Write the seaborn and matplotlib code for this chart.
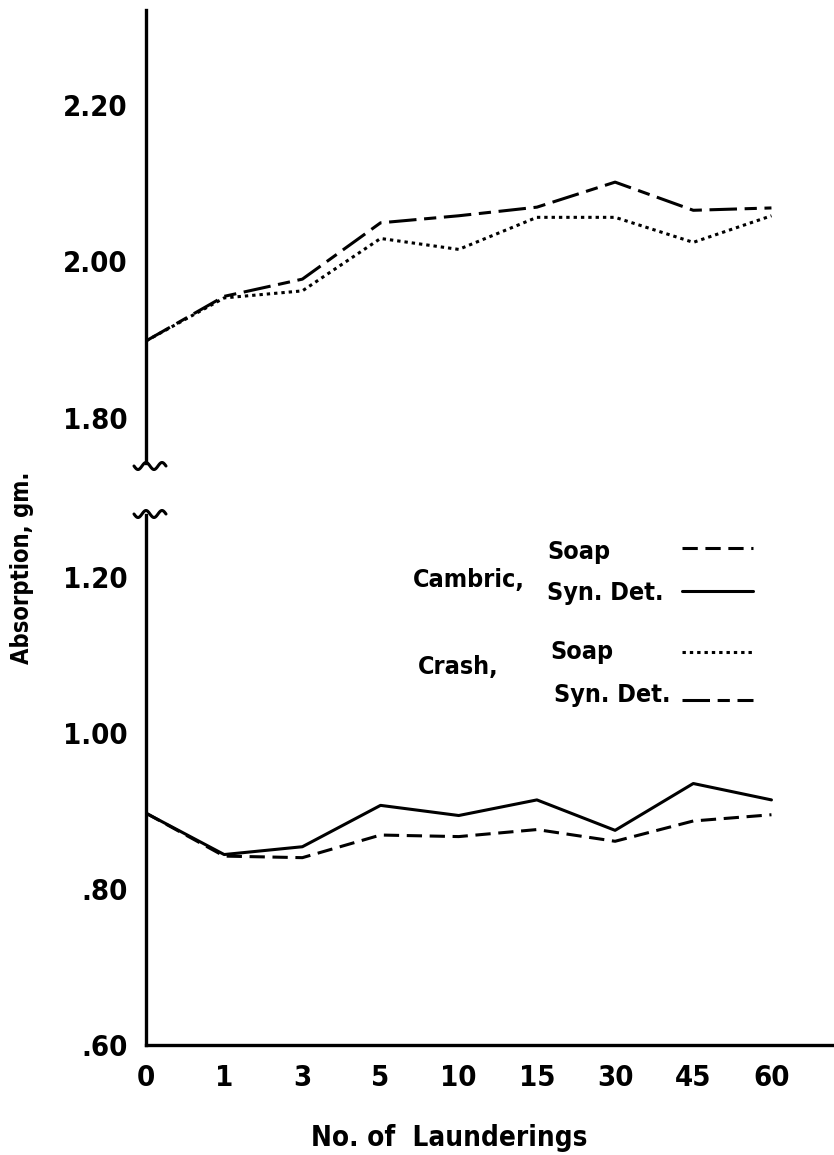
import matplotlib
matplotlib.use("Agg")
import matplotlib.pyplot as plt
from matplotlib.lines import Line2D
import numpy as np
import pandas as pd
import seaborn as sns

# values
launderings = ["0", "1", "3", "5", "10", "15", "30", "45", "60"]
crash_soap = [1.898, 1.953, 1.962, 2.029, 2.015, 2.056, 2.056, 2.024, 2.058]
crash_syn = [1.898, 1.955, 1.977, 2.049, 2.058, 2.069, 2.101, 2.065, 2.068]
cambric_soap = [0.897, 0.842, 0.840, 0.869, 0.867, 0.876, 0.861, 0.887, 0.895]
cambric_syn = [0.897, 0.844, 0.854, 0.907, 0.894, 0.914, 0.875, 0.935, 0.914]

top_ticks = [1.80, 2.00, 2.20]
top_labels = ["1.80", "2.00", "2.20"]
bottom_ticks = [0.60, 0.80, 1.00, 1.20]
bottom_labels = [".60", ".80", "1.00", "1.20"]

W, H = 834, 1155
sns.set_style("white")
plt.rcParams["font.family"] = ["DejaVu Sans"]
for k in ["text.color", "axes.labelcolor", "xtick.color", "ytick.color", "axes.edgecolor"]:
    plt.rcParams[k] = "black"

top_df = pd.DataFrame({
    "n": launderings * 2,
    "absorption": crash_soap + crash_syn,
    "series": ["Crash, Soap"] * 9 + ["Crash, Syn. Det."] * 9,
})
bottom_df = pd.DataFrame({
    "n": launderings * 2,
    "absorption": cambric_soap + cambric_syn,
    "series": ["Cambric, Soap"] * 9 + ["Cambric, Syn. Det."] * 9,
})
dash_styles = {
    "Crash, Soap": (1.1, 1.3),
    "Crash, Syn. Det.": (9, 2.5, 4, 2.5),
    "Cambric, Soap": (5, 2.5),
    "Cambric, Syn. Det.": "",
}


def fx(x):
    return x / W


def fy(y):
    return 1 - y / H


fig = plt.figure(figsize=(W / 100, H / 100), dpi=100)
left, right = fx(146), fx(834)
ax_top = fig.add_axes([left, fy(463), right - left, fy(10) - fy(463)])
ax_bot = fig.add_axes([left, fy(1045), right - left, fy(515) - fy(1045)])

cond = dict(fontweight="bold", fontstretch="condensed")
lw = 2.2
for ax, df in [(ax_top, top_df), (ax_bot, bottom_df)]:
    sns.lineplot(data=df, x="n", y="absorption", style="series", dashes=dash_styles,
                 color="black", linewidth=lw, legend=False, ax=ax)
    ax.set_xlim(0, 8.8)
    ax.set_xlabel("")
    ax.set_ylabel("")
    for s in ["top", "right"]:
        ax.spines[s].set_visible(False)
    ax.spines["left"].set_linewidth(2.4)
    ax.spines["bottom"].set_linewidth(2.4)
    ax.tick_params(direction="in", length=11, width=2, color="black",
                   labelsize=21, pad=13)

ax_top.set_ylim(1.742, 2.321)
ax_top.set_yticks(top_ticks, top_labels)
ax_top.spines["bottom"].set_visible(False)
ax_top.tick_params(axis="x", bottom=False, labelbottom=False)

ax_bot.set_ylim(0.60, 1.279)
ax_bot.set_yticks(bottom_ticks, bottom_labels)
ax_bot.set_xticks(range(len(launderings)), launderings)
ax_bot.tick_params(axis="x", labelsize=21, pad=14)
for t in ax_bot.get_yticklabels() + ax_top.get_yticklabels() + ax_bot.get_xticklabels():
    t.set_fontweight("bold")
    t.set_fontstretch("condensed")
ax_bot.get_xticklines()[0].set_visible(False)

# axis break squiggles
t = np.linspace(0, 1, 60)
for yb in (466, 514):
    xs = 134 + 32 * t
    ys = yb + 3.5 * np.sin(t * 4 * np.pi)
    fig.add_artist(Line2D(fx(xs), fy(ys), color="black", lw=2.2))

# axis titles
fig.text(fx(449), fy(1138), "No. of  Launderings", ha="center", va="center",
         fontsize=20, **cond)
fig.text(fx(22), fy(568), "Absorption, gm.", ha="center", va="center", rotation=90,
         fontsize=17, **cond)

# hand-drawn style key
key_font = dict(fontsize=18, va="center", **cond)
fig.text(fx(413), fy(580), "Cambric,", ha="left", **key_font)
fig.text(fx(547), fy(552), "Soap", ha="left", **key_font)
fig.text(fx(547), fy(593), "Syn. Det.", ha="left", **key_font)
fig.text(fx(418), fy(667), "Crash,", ha="left", **key_font)
fig.text(fx(550), fy(652), "Soap", ha="left", **key_font)
fig.text(fx(554), fy(695), "Syn. Det.", ha="left", **key_font)
for yk, name in [(548, "Cambric, Soap"), (591, "Cambric, Syn. Det."),
                 (652, "Crash, Soap"), (700, "Crash, Syn. Det.")]:
    d = dash_styles[name]
    ln = Line2D([fx(682), fx(753)], [fy(yk), fy(yk)], color="black", lw=lw)
    if d:
        ln.set_dashes(d)
    fig.add_artist(ln)

fig.savefig("out.png", dpi=100)
